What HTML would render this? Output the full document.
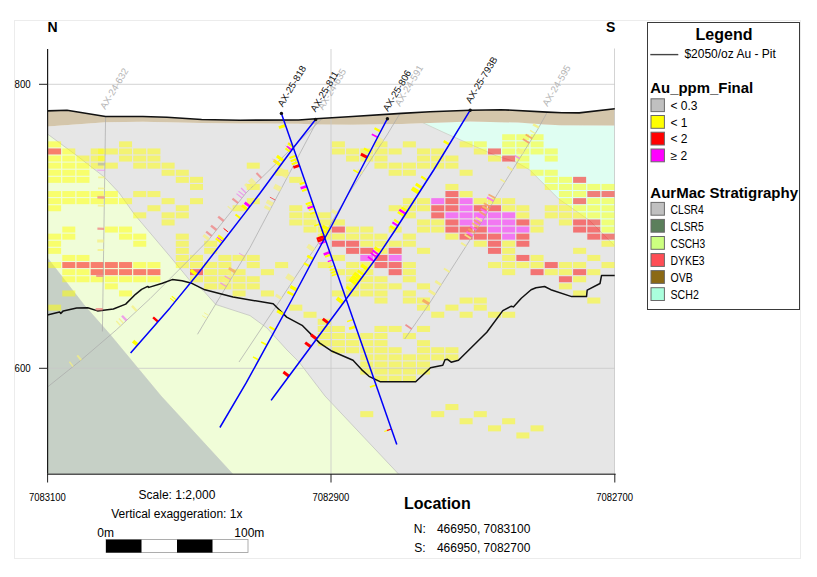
<!DOCTYPE html>
<html><head><meta charset="utf-8"><title>Section</title>
<style>html,body{margin:0;padding:0;background:#fff;}body{width:817px;height:577px;position:relative;overflow:hidden;font-family:"Liberation Sans",sans-serif;}</style></head>
<body>
<svg width="817" height="577" viewBox="0 0 817 577" font-family="Liberation Sans, sans-serif" style="position:absolute;left:0;top:0">
<rect x="14.5" y="20.5" width="786" height="538" fill="#fff" stroke="#ececec" stroke-width="1"/>
<g>
<polygon points="47.5,126.4 105.6,122.3 142.8,121.8 201.6,123.0 240.0,123.4 298.5,123.8 315.7,124.6 352.4,124.8 401.4,124.0 430.0,123.0 470.2,121.4 518.0,122.6 545.0,124.4 560.0,125.3 614.8,125.5 614.8,474.0 47.5,474.0" fill="#e6e6e6"/>
<polygon points="422.5,122.9 430.0,123.0 470.2,121.4 518.0,122.6 545.0,124.4 560.0,125.3 614.8,125.5 614.8,246.0 589.6,220.5 558.4,198.7 544.4,184.6 529.6,169.8 516.3,162.0 496.0,155.7 445.0,133.0" fill="#dffef2"/>
<polygon points="47.5,134.0 76.0,155.0 104.0,176.8 118.8,192.4 134.4,214.3 170.0,256.4 190.8,281.6 203.3,290.6 215.8,304.5 250.0,315.6 267.0,328.0 287.0,350.0 299.0,362.0 325.0,396.0 398.5,474.0 47.5,474.0" fill="#f0fdd8"/>
<polygon points="47.5,258.0 83.7,304.5 110.0,334.5 161.0,396.0 232.7,474.0 47.5,474.0" fill="#c6d0c6"/>
<polyline points="47.5,134.0 76.0,155.0 104.0,176.8 118.8,192.4 134.4,214.3 170.0,256.4 190.8,281.6 203.3,290.6 215.8,304.5 250.0,315.6 267.0,328.0 287.0,350.0 299.0,362.0 325.0,396.0 398.5,474.0" fill="none" stroke="#bdbdbd" stroke-width="0.7"/>
<polyline points="47.5,258.0 83.7,304.5 110.0,334.5 161.0,396.0 232.7,474.0" fill="none" stroke="#c4c9c4" stroke-width="0.6"/>
<polyline points="422.5,122.6 445.0,133.0 496.0,155.7 516.3,162.0 529.6,169.8 544.4,184.6 558.4,198.7 589.6,220.5 614.8,246.0" fill="none" stroke="#c9c9c0" stroke-width="0.7"/>
<polygon points="47.5,110.9 67.0,110.2 105.6,116.5 142.8,116.5 167.0,117.3 201.6,119.5 240.0,120.2 298.5,120.0 315.7,118.7 352.4,116.5 401.4,113.4 430.0,111.8 470.2,110.2 500.8,109.7 547.3,112.1 562.0,112.8 579.2,112.9 614.8,108.7 614.8,125.5 560.0,125.3 545.0,124.4 518.0,122.6 470.2,121.4 430.0,123.0 401.4,124.0 352.4,124.8 315.7,124.6 298.5,123.8 240.0,123.4 201.6,123.0 142.8,121.8 105.6,122.3 47.5,126.4" fill="#d4c6ab"/>
</g>
<g stroke="#c8c8c8" stroke-width="0.8">
<line x1="47.5" y1="84.3" x2="614.8" y2="84.3"/>
<line x1="47.5" y1="368.3" x2="614.8" y2="368.3"/>
<line x1="331" y1="49" x2="331" y2="474.0"/>
<line x1="614.5" y1="48.5" x2="614.5" y2="474.0"/>
</g>
<g shape-rendering="auto">
<rect x="502.18" y="134.25" width="12.99" height="6.00" fill="#ffff00" fill-opacity="0.50"/>
<rect x="516.37" y="134.25" width="12.99" height="6.00" fill="#ffff00" fill-opacity="0.50"/>
<rect x="530.56" y="134.25" width="12.99" height="6.00" fill="#ffff00" fill-opacity="0.50"/>
<rect x="48.10" y="141.35" width="12.99" height="6.00" fill="#ffff00" fill-opacity="0.50"/>
<rect x="119.05" y="141.35" width="12.99" height="6.00" fill="#ffff00" fill-opacity="0.50"/>
<rect x="331.90" y="141.35" width="12.99" height="6.00" fill="#ffff00" fill-opacity="0.50"/>
<rect x="374.47" y="141.35" width="12.99" height="6.00" fill="#ffff00" fill-opacity="0.50"/>
<rect x="402.85" y="141.35" width="12.99" height="6.00" fill="#ffff00" fill-opacity="0.50"/>
<rect x="459.61" y="141.35" width="12.99" height="6.00" fill="#ffff00" fill-opacity="0.50"/>
<rect x="473.80" y="141.35" width="12.99" height="6.00" fill="#ffff00" fill-opacity="0.50"/>
<rect x="502.18" y="141.35" width="12.99" height="6.00" fill="#ffff00" fill-opacity="0.50"/>
<rect x="516.37" y="141.35" width="12.99" height="6.00" fill="#ffff00" fill-opacity="0.50"/>
<rect x="530.56" y="141.35" width="12.99" height="6.00" fill="#ffff00" fill-opacity="0.50"/>
<rect x="48.10" y="148.45" width="12.99" height="6.00" fill="#ff0000" fill-opacity="0.50"/>
<rect x="62.29" y="148.45" width="12.99" height="6.00" fill="#ffff00" fill-opacity="0.50"/>
<rect x="90.67" y="148.45" width="12.99" height="6.00" fill="#ffff00" fill-opacity="0.50"/>
<rect x="104.86" y="148.45" width="12.99" height="6.00" fill="#ffff00" fill-opacity="0.50"/>
<rect x="119.05" y="148.45" width="12.99" height="6.00" fill="#ffff00" fill-opacity="0.50"/>
<rect x="133.24" y="148.45" width="12.99" height="6.00" fill="#ffff00" fill-opacity="0.50"/>
<rect x="147.43" y="148.45" width="12.99" height="6.00" fill="#ffff00" fill-opacity="0.50"/>
<rect x="331.90" y="148.45" width="12.99" height="6.00" fill="#ffff00" fill-opacity="0.50"/>
<rect x="346.09" y="148.45" width="12.99" height="6.00" fill="#ffff00" fill-opacity="0.50"/>
<rect x="360.28" y="148.45" width="12.99" height="6.00" fill="#ffff00" fill-opacity="0.50"/>
<rect x="374.47" y="148.45" width="12.99" height="6.00" fill="#ffff00" fill-opacity="0.50"/>
<rect x="388.66" y="148.45" width="12.99" height="6.00" fill="#ffff00" fill-opacity="0.50"/>
<rect x="417.04" y="148.45" width="12.99" height="6.00" fill="#ffff00" fill-opacity="0.50"/>
<rect x="431.23" y="148.45" width="12.99" height="6.00" fill="#ffff00" fill-opacity="0.50"/>
<rect x="473.80" y="148.45" width="12.99" height="6.00" fill="#ffff00" fill-opacity="0.50"/>
<rect x="487.99" y="148.45" width="12.99" height="6.00" fill="#ff0000" fill-opacity="0.50"/>
<rect x="502.18" y="148.45" width="12.99" height="6.00" fill="#ffff00" fill-opacity="0.50"/>
<rect x="516.37" y="148.45" width="12.99" height="6.00" fill="#ffff00" fill-opacity="0.50"/>
<rect x="530.56" y="148.45" width="12.99" height="6.00" fill="#ffff00" fill-opacity="0.50"/>
<rect x="544.75" y="148.45" width="12.99" height="6.00" fill="#ffff00" fill-opacity="0.50"/>
<rect x="48.10" y="155.55" width="12.99" height="6.00" fill="#ffff00" fill-opacity="0.50"/>
<rect x="62.29" y="155.55" width="12.99" height="6.00" fill="#ffff00" fill-opacity="0.50"/>
<rect x="76.48" y="155.55" width="12.99" height="6.00" fill="#ffff00" fill-opacity="0.50"/>
<rect x="90.67" y="155.55" width="12.99" height="6.00" fill="#ffff00" fill-opacity="0.50"/>
<rect x="119.05" y="155.55" width="12.99" height="6.00" fill="#ffff00" fill-opacity="0.50"/>
<rect x="133.24" y="155.55" width="12.99" height="6.00" fill="#ffff00" fill-opacity="0.50"/>
<rect x="147.43" y="155.55" width="12.99" height="6.00" fill="#ffff00" fill-opacity="0.50"/>
<rect x="346.09" y="155.55" width="12.99" height="6.00" fill="#ffff00" fill-opacity="0.50"/>
<rect x="360.28" y="155.55" width="12.99" height="6.00" fill="#ffff00" fill-opacity="0.50"/>
<rect x="374.47" y="155.55" width="12.99" height="6.00" fill="#ffff00" fill-opacity="0.50"/>
<rect x="417.04" y="155.55" width="12.99" height="6.00" fill="#ffff00" fill-opacity="0.50"/>
<rect x="431.23" y="155.55" width="12.99" height="6.00" fill="#ffff00" fill-opacity="0.50"/>
<rect x="445.42" y="155.55" width="12.99" height="6.00" fill="#ffff00" fill-opacity="0.50"/>
<rect x="487.99" y="155.55" width="12.99" height="6.00" fill="#ffff00" fill-opacity="0.50"/>
<rect x="502.18" y="155.55" width="12.99" height="6.00" fill="#ff0000" fill-opacity="0.50"/>
<rect x="516.37" y="155.55" width="12.99" height="6.00" fill="#ffff00" fill-opacity="0.50"/>
<rect x="544.75" y="155.55" width="12.99" height="6.00" fill="#ffff00" fill-opacity="0.50"/>
<rect x="48.10" y="162.65" width="12.99" height="6.00" fill="#ffff00" fill-opacity="0.50"/>
<rect x="62.29" y="162.65" width="12.99" height="6.00" fill="#ffff00" fill-opacity="0.50"/>
<rect x="76.48" y="162.65" width="12.99" height="6.00" fill="#ffff00" fill-opacity="0.50"/>
<rect x="90.67" y="162.65" width="12.99" height="6.00" fill="#ffff00" fill-opacity="0.50"/>
<rect x="104.86" y="162.65" width="12.99" height="6.00" fill="#ffff00" fill-opacity="0.50"/>
<rect x="133.24" y="162.65" width="12.99" height="6.00" fill="#ffff00" fill-opacity="0.50"/>
<rect x="147.43" y="162.65" width="12.99" height="6.00" fill="#ffff00" fill-opacity="0.50"/>
<rect x="161.62" y="162.65" width="12.99" height="6.00" fill="#ffff00" fill-opacity="0.50"/>
<rect x="246.76" y="162.65" width="12.99" height="6.00" fill="#ffff00" fill-opacity="0.50"/>
<rect x="374.47" y="162.65" width="12.99" height="6.00" fill="#ffff00" fill-opacity="0.50"/>
<rect x="388.66" y="162.65" width="12.99" height="6.00" fill="#ffff00" fill-opacity="0.50"/>
<rect x="402.85" y="162.65" width="12.99" height="6.00" fill="#ffff00" fill-opacity="0.50"/>
<rect x="417.04" y="162.65" width="12.99" height="6.00" fill="#ffff00" fill-opacity="0.50"/>
<rect x="431.23" y="162.65" width="12.99" height="6.00" fill="#ffff00" fill-opacity="0.50"/>
<rect x="445.42" y="162.65" width="12.99" height="6.00" fill="#ffff00" fill-opacity="0.50"/>
<rect x="516.37" y="162.65" width="12.99" height="6.00" fill="#ffff00" fill-opacity="0.50"/>
<rect x="48.10" y="169.75" width="12.99" height="6.00" fill="#ffff00" fill-opacity="0.50"/>
<rect x="62.29" y="169.75" width="12.99" height="6.00" fill="#ffff00" fill-opacity="0.50"/>
<rect x="76.48" y="169.75" width="12.99" height="6.00" fill="#ffff00" fill-opacity="0.50"/>
<rect x="161.62" y="169.75" width="12.99" height="6.00" fill="#ffff00" fill-opacity="0.50"/>
<rect x="175.81" y="169.75" width="12.99" height="6.00" fill="#ffff00" fill-opacity="0.50"/>
<rect x="275.14" y="169.75" width="12.99" height="6.00" fill="#ffff00" fill-opacity="0.50"/>
<rect x="388.66" y="169.75" width="12.99" height="6.00" fill="#ffff00" fill-opacity="0.50"/>
<rect x="402.85" y="169.75" width="12.99" height="6.00" fill="#ffff00" fill-opacity="0.50"/>
<rect x="459.61" y="169.75" width="12.99" height="6.00" fill="#ffff00" fill-opacity="0.50"/>
<rect x="530.56" y="169.75" width="12.99" height="6.00" fill="#ffff00" fill-opacity="0.50"/>
<rect x="544.75" y="169.75" width="12.99" height="6.00" fill="#ffff00" fill-opacity="0.50"/>
<rect x="48.10" y="176.85" width="12.99" height="6.00" fill="#ffff00" fill-opacity="0.50"/>
<rect x="62.29" y="176.85" width="12.99" height="6.00" fill="#ffff00" fill-opacity="0.50"/>
<rect x="76.48" y="176.85" width="12.99" height="6.00" fill="#ffff00" fill-opacity="0.50"/>
<rect x="175.81" y="176.85" width="12.99" height="6.00" fill="#ffff00" fill-opacity="0.50"/>
<rect x="190.00" y="176.85" width="12.99" height="6.00" fill="#ffff00" fill-opacity="0.50"/>
<rect x="289.33" y="176.85" width="12.99" height="6.00" fill="#ffff00" fill-opacity="0.50"/>
<rect x="544.75" y="176.85" width="12.99" height="6.00" fill="#ffff00" fill-opacity="0.50"/>
<rect x="558.94" y="176.85" width="12.99" height="6.00" fill="#ffff00" fill-opacity="0.50"/>
<rect x="573.13" y="176.85" width="12.99" height="6.00" fill="#ff0000" fill-opacity="0.50"/>
<rect x="190.00" y="183.95" width="12.99" height="6.00" fill="#ffff00" fill-opacity="0.50"/>
<rect x="246.76" y="183.95" width="12.99" height="6.00" fill="#ffff00" fill-opacity="0.50"/>
<rect x="445.42" y="183.95" width="12.99" height="6.00" fill="#ffff00" fill-opacity="0.50"/>
<rect x="544.75" y="183.95" width="12.99" height="6.00" fill="#ffff00" fill-opacity="0.50"/>
<rect x="558.94" y="183.95" width="12.99" height="6.00" fill="#ffff00" fill-opacity="0.50"/>
<rect x="573.13" y="183.95" width="12.99" height="6.00" fill="#ffff00" fill-opacity="0.50"/>
<rect x="587.32" y="183.95" width="12.99" height="6.00" fill="#ffff00" fill-opacity="0.50"/>
<rect x="601.51" y="183.95" width="12.99" height="6.00" fill="#ffff00" fill-opacity="0.50"/>
<rect x="48.10" y="191.05" width="12.99" height="6.00" fill="#ffff00" fill-opacity="0.50"/>
<rect x="62.29" y="191.05" width="12.99" height="6.00" fill="#ffff00" fill-opacity="0.50"/>
<rect x="76.48" y="191.05" width="12.99" height="6.00" fill="#ffff00" fill-opacity="0.50"/>
<rect x="90.67" y="191.05" width="12.99" height="6.00" fill="#ffff00" fill-opacity="0.50"/>
<rect x="104.86" y="191.05" width="12.99" height="6.00" fill="#ffff00" fill-opacity="0.50"/>
<rect x="133.24" y="191.05" width="12.99" height="6.00" fill="#ffff00" fill-opacity="0.50"/>
<rect x="147.43" y="191.05" width="12.99" height="6.00" fill="#ffff00" fill-opacity="0.50"/>
<rect x="445.42" y="191.05" width="12.99" height="6.00" fill="#ff0000" fill-opacity="0.50"/>
<rect x="459.61" y="191.05" width="12.99" height="6.00" fill="#ffff00" fill-opacity="0.50"/>
<rect x="558.94" y="191.05" width="12.99" height="6.00" fill="#ffff00" fill-opacity="0.50"/>
<rect x="573.13" y="191.05" width="12.99" height="6.00" fill="#ffff00" fill-opacity="0.50"/>
<rect x="587.32" y="191.05" width="12.99" height="6.00" fill="#ff0000" fill-opacity="0.50"/>
<rect x="601.51" y="191.05" width="12.99" height="6.00" fill="#ff0000" fill-opacity="0.50"/>
<rect x="48.10" y="198.15" width="12.99" height="6.00" fill="#ffff00" fill-opacity="0.50"/>
<rect x="62.29" y="198.15" width="12.99" height="6.00" fill="#ffff00" fill-opacity="0.50"/>
<rect x="76.48" y="198.15" width="12.99" height="6.00" fill="#ffff00" fill-opacity="0.50"/>
<rect x="90.67" y="198.15" width="12.99" height="6.00" fill="#ffff00" fill-opacity="0.50"/>
<rect x="104.86" y="198.15" width="12.99" height="6.00" fill="#ffff00" fill-opacity="0.50"/>
<rect x="119.05" y="198.15" width="12.99" height="6.00" fill="#ffff00" fill-opacity="0.50"/>
<rect x="161.62" y="198.15" width="12.99" height="6.00" fill="#ffff00" fill-opacity="0.50"/>
<rect x="190.00" y="198.15" width="12.99" height="6.00" fill="#ffff00" fill-opacity="0.50"/>
<rect x="246.76" y="198.15" width="12.99" height="6.00" fill="#ffff00" fill-opacity="0.50"/>
<rect x="402.85" y="198.15" width="12.99" height="6.00" fill="#ffff00" fill-opacity="0.50"/>
<rect x="417.04" y="198.15" width="12.99" height="6.00" fill="#ffff00" fill-opacity="0.50"/>
<rect x="431.23" y="198.15" width="12.99" height="6.00" fill="#ff00ff" fill-opacity="0.48"/>
<rect x="445.42" y="198.15" width="12.99" height="6.00" fill="#ff0000" fill-opacity="0.50"/>
<rect x="459.61" y="198.15" width="12.99" height="6.00" fill="#ff00ff" fill-opacity="0.48"/>
<rect x="473.80" y="198.15" width="12.99" height="6.00" fill="#ffff00" fill-opacity="0.50"/>
<rect x="487.99" y="198.15" width="12.99" height="6.00" fill="#ffff00" fill-opacity="0.50"/>
<rect x="502.18" y="198.15" width="12.99" height="6.00" fill="#ffff00" fill-opacity="0.50"/>
<rect x="558.94" y="198.15" width="12.99" height="6.00" fill="#ffff00" fill-opacity="0.50"/>
<rect x="573.13" y="198.15" width="12.99" height="6.00" fill="#ff0000" fill-opacity="0.50"/>
<rect x="587.32" y="198.15" width="12.99" height="6.00" fill="#ffff00" fill-opacity="0.50"/>
<rect x="601.51" y="198.15" width="12.99" height="6.00" fill="#ffff00" fill-opacity="0.50"/>
<rect x="48.10" y="205.25" width="12.99" height="6.00" fill="#ffff00" fill-opacity="0.50"/>
<rect x="147.43" y="205.25" width="12.99" height="6.00" fill="#ffff00" fill-opacity="0.50"/>
<rect x="175.81" y="205.25" width="12.99" height="6.00" fill="#ffff00" fill-opacity="0.50"/>
<rect x="232.57" y="205.25" width="12.99" height="6.00" fill="#ffff00" fill-opacity="0.50"/>
<rect x="289.33" y="205.25" width="12.99" height="6.00" fill="#ffff00" fill-opacity="0.50"/>
<rect x="388.66" y="205.25" width="12.99" height="6.00" fill="#ffff00" fill-opacity="0.50"/>
<rect x="402.85" y="205.25" width="12.99" height="6.00" fill="#ffff00" fill-opacity="0.50"/>
<rect x="417.04" y="205.25" width="12.99" height="6.00" fill="#ffff00" fill-opacity="0.50"/>
<rect x="431.23" y="205.25" width="12.99" height="6.00" fill="#ff0000" fill-opacity="0.50"/>
<rect x="445.42" y="205.25" width="12.99" height="6.00" fill="#ff0000" fill-opacity="0.50"/>
<rect x="459.61" y="205.25" width="12.99" height="6.00" fill="#ff00ff" fill-opacity="0.48"/>
<rect x="473.80" y="205.25" width="12.99" height="6.00" fill="#ff0000" fill-opacity="0.50"/>
<rect x="487.99" y="205.25" width="12.99" height="6.00" fill="#ff0000" fill-opacity="0.50"/>
<rect x="502.18" y="205.25" width="12.99" height="6.00" fill="#ffff00" fill-opacity="0.50"/>
<rect x="516.37" y="205.25" width="12.99" height="6.00" fill="#ffff00" fill-opacity="0.50"/>
<rect x="544.75" y="205.25" width="12.99" height="6.00" fill="#ffff00" fill-opacity="0.50"/>
<rect x="558.94" y="205.25" width="12.99" height="6.00" fill="#ffff00" fill-opacity="0.50"/>
<rect x="573.13" y="205.25" width="12.99" height="6.00" fill="#ffff00" fill-opacity="0.50"/>
<rect x="587.32" y="205.25" width="12.99" height="6.00" fill="#ffff00" fill-opacity="0.50"/>
<rect x="601.51" y="205.25" width="12.99" height="6.00" fill="#ffff00" fill-opacity="0.50"/>
<rect x="133.24" y="212.35" width="12.99" height="6.00" fill="#ffff00" fill-opacity="0.50"/>
<rect x="161.62" y="212.35" width="12.99" height="6.00" fill="#ffff00" fill-opacity="0.50"/>
<rect x="175.81" y="212.35" width="12.99" height="6.00" fill="#ffff00" fill-opacity="0.50"/>
<rect x="289.33" y="212.35" width="12.99" height="6.00" fill="#ffff00" fill-opacity="0.50"/>
<rect x="303.52" y="212.35" width="12.99" height="6.00" fill="#ffff00" fill-opacity="0.50"/>
<rect x="317.71" y="212.35" width="12.99" height="6.00" fill="#ffff00" fill-opacity="0.50"/>
<rect x="402.85" y="212.35" width="12.99" height="6.00" fill="#ffff00" fill-opacity="0.50"/>
<rect x="431.23" y="212.35" width="12.99" height="6.00" fill="#ff0000" fill-opacity="0.50"/>
<rect x="445.42" y="212.35" width="12.99" height="6.00" fill="#ff00ff" fill-opacity="0.48"/>
<rect x="459.61" y="212.35" width="12.99" height="6.00" fill="#ff00ff" fill-opacity="0.48"/>
<rect x="473.80" y="212.35" width="12.99" height="6.00" fill="#ff00ff" fill-opacity="0.48"/>
<rect x="487.99" y="212.35" width="12.99" height="6.00" fill="#ff00ff" fill-opacity="0.48"/>
<rect x="502.18" y="212.35" width="12.99" height="6.00" fill="#ff00ff" fill-opacity="0.48"/>
<rect x="516.37" y="212.35" width="12.99" height="6.00" fill="#ffff00" fill-opacity="0.50"/>
<rect x="544.75" y="212.35" width="12.99" height="6.00" fill="#ffff00" fill-opacity="0.50"/>
<rect x="558.94" y="212.35" width="12.99" height="6.00" fill="#ffff00" fill-opacity="0.50"/>
<rect x="573.13" y="212.35" width="12.99" height="6.00" fill="#ffff00" fill-opacity="0.50"/>
<rect x="587.32" y="212.35" width="12.99" height="6.00" fill="#ffff00" fill-opacity="0.50"/>
<rect x="601.51" y="212.35" width="12.99" height="6.00" fill="#ffff00" fill-opacity="0.50"/>
<rect x="161.62" y="219.45" width="12.99" height="6.00" fill="#ffff00" fill-opacity="0.50"/>
<rect x="289.33" y="219.45" width="12.99" height="6.00" fill="#ffff00" fill-opacity="0.50"/>
<rect x="303.52" y="219.45" width="12.99" height="6.00" fill="#ffff00" fill-opacity="0.50"/>
<rect x="317.71" y="219.45" width="12.99" height="6.00" fill="#ffff00" fill-opacity="0.50"/>
<rect x="331.90" y="219.45" width="12.99" height="6.00" fill="#ffff00" fill-opacity="0.50"/>
<rect x="417.04" y="219.45" width="12.99" height="6.00" fill="#ffff00" fill-opacity="0.50"/>
<rect x="431.23" y="219.45" width="12.99" height="6.00" fill="#ffff00" fill-opacity="0.50"/>
<rect x="445.42" y="219.45" width="12.99" height="6.00" fill="#ff0000" fill-opacity="0.50"/>
<rect x="459.61" y="219.45" width="12.99" height="6.00" fill="#ff00ff" fill-opacity="0.48"/>
<rect x="473.80" y="219.45" width="12.99" height="6.00" fill="#ff00ff" fill-opacity="0.48"/>
<rect x="487.99" y="219.45" width="12.99" height="6.00" fill="#ff00ff" fill-opacity="0.48"/>
<rect x="502.18" y="219.45" width="12.99" height="6.00" fill="#ff00ff" fill-opacity="0.48"/>
<rect x="516.37" y="219.45" width="12.99" height="6.00" fill="#ff0000" fill-opacity="0.50"/>
<rect x="530.56" y="219.45" width="12.99" height="6.00" fill="#ffff00" fill-opacity="0.50"/>
<rect x="558.94" y="219.45" width="12.99" height="6.00" fill="#ffff00" fill-opacity="0.50"/>
<rect x="573.13" y="219.45" width="12.99" height="6.00" fill="#ff0000" fill-opacity="0.50"/>
<rect x="587.32" y="219.45" width="12.99" height="6.00" fill="#ff0000" fill-opacity="0.50"/>
<rect x="601.51" y="219.45" width="12.99" height="6.00" fill="#ffff00" fill-opacity="0.50"/>
<rect x="62.29" y="226.55" width="12.99" height="6.00" fill="#ffff00" fill-opacity="0.50"/>
<rect x="104.86" y="226.55" width="12.99" height="6.00" fill="#ffff00" fill-opacity="0.50"/>
<rect x="119.05" y="226.55" width="12.99" height="6.00" fill="#ffff00" fill-opacity="0.50"/>
<rect x="303.52" y="226.55" width="12.99" height="6.00" fill="#ffff00" fill-opacity="0.50"/>
<rect x="317.71" y="226.55" width="12.99" height="6.00" fill="#ffff00" fill-opacity="0.50"/>
<rect x="331.90" y="226.55" width="12.99" height="6.00" fill="#ff0000" fill-opacity="0.50"/>
<rect x="346.09" y="226.55" width="12.99" height="6.00" fill="#ffff00" fill-opacity="0.50"/>
<rect x="360.28" y="226.55" width="12.99" height="6.00" fill="#ffff00" fill-opacity="0.50"/>
<rect x="388.66" y="226.55" width="12.99" height="6.00" fill="#ffff00" fill-opacity="0.50"/>
<rect x="417.04" y="226.55" width="12.99" height="6.00" fill="#ffff00" fill-opacity="0.50"/>
<rect x="431.23" y="226.55" width="12.99" height="6.00" fill="#ffff00" fill-opacity="0.50"/>
<rect x="445.42" y="226.55" width="12.99" height="6.00" fill="#ff0000" fill-opacity="0.50"/>
<rect x="459.61" y="226.55" width="12.99" height="6.00" fill="#ff0000" fill-opacity="0.50"/>
<rect x="473.80" y="226.55" width="12.99" height="6.00" fill="#ff0000" fill-opacity="0.50"/>
<rect x="487.99" y="226.55" width="12.99" height="6.00" fill="#ff00ff" fill-opacity="0.48"/>
<rect x="502.18" y="226.55" width="12.99" height="6.00" fill="#ff00ff" fill-opacity="0.48"/>
<rect x="516.37" y="226.55" width="12.99" height="6.00" fill="#ff00ff" fill-opacity="0.48"/>
<rect x="530.56" y="226.55" width="12.99" height="6.00" fill="#ffff00" fill-opacity="0.50"/>
<rect x="573.13" y="226.55" width="12.99" height="6.00" fill="#ff0000" fill-opacity="0.50"/>
<rect x="587.32" y="226.55" width="12.99" height="6.00" fill="#ff0000" fill-opacity="0.50"/>
<rect x="601.51" y="226.55" width="12.99" height="6.00" fill="#ffff00" fill-opacity="0.50"/>
<rect x="48.10" y="233.65" width="12.99" height="6.00" fill="#ffff00" fill-opacity="0.50"/>
<rect x="62.29" y="233.65" width="12.99" height="6.00" fill="#ffff00" fill-opacity="0.50"/>
<rect x="119.05" y="233.65" width="12.99" height="6.00" fill="#ffff00" fill-opacity="0.50"/>
<rect x="133.24" y="233.65" width="12.99" height="6.00" fill="#ffff00" fill-opacity="0.50"/>
<rect x="175.81" y="233.65" width="12.99" height="6.00" fill="#ffff00" fill-opacity="0.50"/>
<rect x="317.71" y="233.65" width="12.99" height="6.00" fill="#ffff00" fill-opacity="0.50"/>
<rect x="331.90" y="233.65" width="12.99" height="6.00" fill="#ffff00" fill-opacity="0.50"/>
<rect x="346.09" y="233.65" width="12.99" height="6.00" fill="#ffff00" fill-opacity="0.50"/>
<rect x="360.28" y="233.65" width="12.99" height="6.00" fill="#ffff00" fill-opacity="0.50"/>
<rect x="374.47" y="233.65" width="12.99" height="6.00" fill="#ffff00" fill-opacity="0.50"/>
<rect x="402.85" y="233.65" width="12.99" height="6.00" fill="#ffff00" fill-opacity="0.50"/>
<rect x="445.42" y="233.65" width="12.99" height="6.00" fill="#ffff00" fill-opacity="0.50"/>
<rect x="459.61" y="233.65" width="12.99" height="6.00" fill="#ff0000" fill-opacity="0.50"/>
<rect x="473.80" y="233.65" width="12.99" height="6.00" fill="#ff0000" fill-opacity="0.50"/>
<rect x="487.99" y="233.65" width="12.99" height="6.00" fill="#ff0000" fill-opacity="0.50"/>
<rect x="502.18" y="233.65" width="12.99" height="6.00" fill="#ff00ff" fill-opacity="0.48"/>
<rect x="516.37" y="233.65" width="12.99" height="6.00" fill="#ff0000" fill-opacity="0.50"/>
<rect x="587.32" y="233.65" width="12.99" height="6.00" fill="#ff0000" fill-opacity="0.50"/>
<rect x="601.51" y="233.65" width="12.99" height="6.00" fill="#ff0000" fill-opacity="0.50"/>
<rect x="48.10" y="240.75" width="12.99" height="6.00" fill="#ffff00" fill-opacity="0.50"/>
<rect x="133.24" y="240.75" width="12.99" height="6.00" fill="#ffff00" fill-opacity="0.50"/>
<rect x="175.81" y="240.75" width="12.99" height="6.00" fill="#ffff00" fill-opacity="0.50"/>
<rect x="204.19" y="240.75" width="12.99" height="6.00" fill="#ffff00" fill-opacity="0.50"/>
<rect x="331.90" y="240.75" width="12.99" height="6.00" fill="#ff0000" fill-opacity="0.50"/>
<rect x="346.09" y="240.75" width="12.99" height="6.00" fill="#ff0000" fill-opacity="0.50"/>
<rect x="360.28" y="240.75" width="12.99" height="6.00" fill="#ffff00" fill-opacity="0.50"/>
<rect x="374.47" y="240.75" width="12.99" height="6.00" fill="#ffff00" fill-opacity="0.50"/>
<rect x="388.66" y="240.75" width="12.99" height="6.00" fill="#ffff00" fill-opacity="0.50"/>
<rect x="402.85" y="240.75" width="12.99" height="6.00" fill="#ffff00" fill-opacity="0.50"/>
<rect x="473.80" y="240.75" width="12.99" height="6.00" fill="#ffff00" fill-opacity="0.50"/>
<rect x="487.99" y="240.75" width="12.99" height="6.00" fill="#ff0000" fill-opacity="0.50"/>
<rect x="502.18" y="240.75" width="12.99" height="6.00" fill="#ffff00" fill-opacity="0.50"/>
<rect x="516.37" y="240.75" width="12.99" height="6.00" fill="#ff0000" fill-opacity="0.50"/>
<rect x="601.51" y="240.75" width="12.99" height="6.00" fill="#ffff00" fill-opacity="0.50"/>
<rect x="48.10" y="247.85" width="12.99" height="6.00" fill="#ffff00" fill-opacity="0.50"/>
<rect x="175.81" y="247.85" width="12.99" height="6.00" fill="#ffff00" fill-opacity="0.50"/>
<rect x="204.19" y="247.85" width="12.99" height="6.00" fill="#ffff00" fill-opacity="0.50"/>
<rect x="346.09" y="247.85" width="12.99" height="6.00" fill="#ff0000" fill-opacity="0.50"/>
<rect x="360.28" y="247.85" width="12.99" height="6.00" fill="#ff0000" fill-opacity="0.50"/>
<rect x="374.47" y="247.85" width="12.99" height="6.00" fill="#ffff00" fill-opacity="0.50"/>
<rect x="388.66" y="247.85" width="12.99" height="6.00" fill="#ff0000" fill-opacity="0.50"/>
<rect x="417.04" y="247.85" width="12.99" height="6.00" fill="#ffff00" fill-opacity="0.50"/>
<rect x="487.99" y="247.85" width="12.99" height="6.00" fill="#ff0000" fill-opacity="0.50"/>
<rect x="502.18" y="247.85" width="12.99" height="6.00" fill="#ffff00" fill-opacity="0.50"/>
<rect x="573.13" y="247.85" width="12.99" height="6.00" fill="#ffff00" fill-opacity="0.50"/>
<rect x="62.29" y="254.95" width="12.99" height="6.00" fill="#ffff00" fill-opacity="0.50"/>
<rect x="76.48" y="254.95" width="12.99" height="6.00" fill="#ffff00" fill-opacity="0.50"/>
<rect x="175.81" y="254.95" width="12.99" height="6.00" fill="#ffff00" fill-opacity="0.50"/>
<rect x="190.00" y="254.95" width="12.99" height="6.00" fill="#ffff00" fill-opacity="0.50"/>
<rect x="218.38" y="254.95" width="12.99" height="6.00" fill="#ffff00" fill-opacity="0.50"/>
<rect x="232.57" y="254.95" width="12.99" height="6.00" fill="#ffff00" fill-opacity="0.50"/>
<rect x="246.76" y="254.95" width="12.99" height="6.00" fill="#ffff00" fill-opacity="0.50"/>
<rect x="331.90" y="254.95" width="12.99" height="6.00" fill="#ffff00" fill-opacity="0.50"/>
<rect x="360.28" y="254.95" width="12.99" height="6.00" fill="#ff00ff" fill-opacity="0.48"/>
<rect x="374.47" y="254.95" width="12.99" height="6.00" fill="#ff0000" fill-opacity="0.50"/>
<rect x="388.66" y="254.95" width="12.99" height="6.00" fill="#ff00ff" fill-opacity="0.48"/>
<rect x="502.18" y="254.95" width="12.99" height="6.00" fill="#ffff00" fill-opacity="0.50"/>
<rect x="516.37" y="254.95" width="12.99" height="6.00" fill="#ff0000" fill-opacity="0.50"/>
<rect x="530.56" y="254.95" width="12.99" height="6.00" fill="#ffff00" fill-opacity="0.50"/>
<rect x="587.32" y="254.95" width="12.99" height="6.00" fill="#ffff00" fill-opacity="0.50"/>
<rect x="48.10" y="262.05" width="12.99" height="6.00" fill="#ffff00" fill-opacity="0.50"/>
<rect x="62.29" y="262.05" width="12.99" height="6.00" fill="#ff0000" fill-opacity="0.50"/>
<rect x="76.48" y="262.05" width="12.99" height="6.00" fill="#ff0000" fill-opacity="0.50"/>
<rect x="90.67" y="262.05" width="12.99" height="6.00" fill="#ff0000" fill-opacity="0.50"/>
<rect x="104.86" y="262.05" width="12.99" height="6.00" fill="#ff0000" fill-opacity="0.50"/>
<rect x="119.05" y="262.05" width="12.99" height="6.00" fill="#ff0000" fill-opacity="0.50"/>
<rect x="133.24" y="262.05" width="12.99" height="6.00" fill="#ffff00" fill-opacity="0.50"/>
<rect x="147.43" y="262.05" width="12.99" height="6.00" fill="#ffff00" fill-opacity="0.50"/>
<rect x="175.81" y="262.05" width="12.99" height="6.00" fill="#ffff00" fill-opacity="0.50"/>
<rect x="190.00" y="262.05" width="12.99" height="6.00" fill="#ffff00" fill-opacity="0.50"/>
<rect x="204.19" y="262.05" width="12.99" height="6.00" fill="#ffff00" fill-opacity="0.50"/>
<rect x="218.38" y="262.05" width="12.99" height="6.00" fill="#ffff00" fill-opacity="0.50"/>
<rect x="246.76" y="262.05" width="12.99" height="6.00" fill="#ffff00" fill-opacity="0.50"/>
<rect x="275.14" y="262.05" width="12.99" height="6.00" fill="#ffff00" fill-opacity="0.50"/>
<rect x="317.71" y="262.05" width="12.99" height="6.00" fill="#ffff00" fill-opacity="0.50"/>
<rect x="346.09" y="262.05" width="12.99" height="6.00" fill="#ffff00" fill-opacity="0.50"/>
<rect x="360.28" y="262.05" width="12.99" height="6.00" fill="#ffff00" fill-opacity="0.50"/>
<rect x="374.47" y="262.05" width="12.99" height="6.00" fill="#ff0000" fill-opacity="0.50"/>
<rect x="388.66" y="262.05" width="12.99" height="6.00" fill="#ff0000" fill-opacity="0.50"/>
<rect x="402.85" y="262.05" width="12.99" height="6.00" fill="#ffff00" fill-opacity="0.50"/>
<rect x="487.99" y="262.05" width="12.99" height="6.00" fill="#ffff00" fill-opacity="0.50"/>
<rect x="502.18" y="262.05" width="12.99" height="6.00" fill="#ffff00" fill-opacity="0.50"/>
<rect x="516.37" y="262.05" width="12.99" height="6.00" fill="#ffff00" fill-opacity="0.50"/>
<rect x="530.56" y="262.05" width="12.99" height="6.00" fill="#ffff00" fill-opacity="0.50"/>
<rect x="544.75" y="262.05" width="12.99" height="6.00" fill="#ff0000" fill-opacity="0.50"/>
<rect x="558.94" y="262.05" width="12.99" height="6.00" fill="#ffff00" fill-opacity="0.50"/>
<rect x="573.13" y="262.05" width="12.99" height="6.00" fill="#ffff00" fill-opacity="0.50"/>
<rect x="601.51" y="262.05" width="12.99" height="6.00" fill="#ffff00" fill-opacity="0.50"/>
<rect x="62.29" y="269.15" width="12.99" height="6.00" fill="#ffff00" fill-opacity="0.50"/>
<rect x="76.48" y="269.15" width="12.99" height="6.00" fill="#ffff00" fill-opacity="0.50"/>
<rect x="90.67" y="269.15" width="12.99" height="6.00" fill="#ff0000" fill-opacity="0.50"/>
<rect x="104.86" y="269.15" width="12.99" height="6.00" fill="#ff0000" fill-opacity="0.50"/>
<rect x="119.05" y="269.15" width="12.99" height="6.00" fill="#ff0000" fill-opacity="0.50"/>
<rect x="133.24" y="269.15" width="12.99" height="6.00" fill="#ff0000" fill-opacity="0.50"/>
<rect x="147.43" y="269.15" width="12.99" height="6.00" fill="#ff0000" fill-opacity="0.50"/>
<rect x="190.00" y="269.15" width="12.99" height="6.00" fill="#ff0000" fill-opacity="0.50"/>
<rect x="204.19" y="269.15" width="12.99" height="6.00" fill="#ffff00" fill-opacity="0.50"/>
<rect x="218.38" y="269.15" width="12.99" height="6.00" fill="#ffff00" fill-opacity="0.50"/>
<rect x="232.57" y="269.15" width="12.99" height="6.00" fill="#ffff00" fill-opacity="0.50"/>
<rect x="260.95" y="269.15" width="12.99" height="6.00" fill="#ffff00" fill-opacity="0.50"/>
<rect x="331.90" y="269.15" width="12.99" height="6.00" fill="#ffff00" fill-opacity="0.50"/>
<rect x="346.09" y="269.15" width="12.99" height="6.00" fill="#ffff00" fill-opacity="0.50"/>
<rect x="360.28" y="269.15" width="12.99" height="6.00" fill="#ffff00" fill-opacity="0.50"/>
<rect x="388.66" y="269.15" width="12.99" height="6.00" fill="#ff0000" fill-opacity="0.50"/>
<rect x="402.85" y="269.15" width="12.99" height="6.00" fill="#ffff00" fill-opacity="0.50"/>
<rect x="502.18" y="269.15" width="12.99" height="6.00" fill="#ffff00" fill-opacity="0.50"/>
<rect x="530.56" y="269.15" width="12.99" height="6.00" fill="#ff0000" fill-opacity="0.50"/>
<rect x="544.75" y="269.15" width="12.99" height="6.00" fill="#ffff00" fill-opacity="0.50"/>
<rect x="558.94" y="269.15" width="12.99" height="6.00" fill="#ffff00" fill-opacity="0.50"/>
<rect x="573.13" y="269.15" width="12.99" height="6.00" fill="#ff0000" fill-opacity="0.50"/>
<rect x="587.32" y="269.15" width="12.99" height="6.00" fill="#ffff00" fill-opacity="0.50"/>
<rect x="62.29" y="276.25" width="12.99" height="6.00" fill="#ffff00" fill-opacity="0.50"/>
<rect x="76.48" y="276.25" width="12.99" height="6.00" fill="#ffff00" fill-opacity="0.50"/>
<rect x="90.67" y="276.25" width="12.99" height="6.00" fill="#ffff00" fill-opacity="0.50"/>
<rect x="104.86" y="276.25" width="12.99" height="6.00" fill="#ffff00" fill-opacity="0.50"/>
<rect x="119.05" y="276.25" width="12.99" height="6.00" fill="#ffff00" fill-opacity="0.50"/>
<rect x="133.24" y="276.25" width="12.99" height="6.00" fill="#ffff00" fill-opacity="0.50"/>
<rect x="147.43" y="276.25" width="12.99" height="6.00" fill="#ffff00" fill-opacity="0.50"/>
<rect x="190.00" y="276.25" width="12.99" height="6.00" fill="#ffff00" fill-opacity="0.50"/>
<rect x="204.19" y="276.25" width="12.99" height="6.00" fill="#ffff00" fill-opacity="0.50"/>
<rect x="218.38" y="276.25" width="12.99" height="6.00" fill="#ffff00" fill-opacity="0.50"/>
<rect x="232.57" y="276.25" width="12.99" height="6.00" fill="#ffff00" fill-opacity="0.50"/>
<rect x="246.76" y="276.25" width="12.99" height="6.00" fill="#ffff00" fill-opacity="0.50"/>
<rect x="346.09" y="276.25" width="12.99" height="6.00" fill="#ffff00" fill-opacity="0.50"/>
<rect x="360.28" y="276.25" width="12.99" height="6.00" fill="#ffff00" fill-opacity="0.50"/>
<rect x="374.47" y="276.25" width="12.99" height="6.00" fill="#ffff00" fill-opacity="0.50"/>
<rect x="402.85" y="276.25" width="12.99" height="6.00" fill="#ffff00" fill-opacity="0.50"/>
<rect x="558.94" y="276.25" width="12.99" height="6.00" fill="#ff0000" fill-opacity="0.50"/>
<rect x="573.13" y="276.25" width="12.99" height="6.00" fill="#ffff00" fill-opacity="0.50"/>
<rect x="104.86" y="283.35" width="12.99" height="6.00" fill="#ffff00" fill-opacity="0.50"/>
<rect x="204.19" y="283.35" width="12.99" height="6.00" fill="#ffff00" fill-opacity="0.50"/>
<rect x="218.38" y="283.35" width="12.99" height="6.00" fill="#ffff00" fill-opacity="0.50"/>
<rect x="232.57" y="283.35" width="12.99" height="6.00" fill="#ffff00" fill-opacity="0.50"/>
<rect x="246.76" y="283.35" width="12.99" height="6.00" fill="#ffff00" fill-opacity="0.50"/>
<rect x="346.09" y="283.35" width="12.99" height="6.00" fill="#ffff00" fill-opacity="0.50"/>
<rect x="360.28" y="283.35" width="12.99" height="6.00" fill="#ffff00" fill-opacity="0.50"/>
<rect x="374.47" y="283.35" width="12.99" height="6.00" fill="#ffff00" fill-opacity="0.50"/>
<rect x="388.66" y="283.35" width="12.99" height="6.00" fill="#ffff00" fill-opacity="0.50"/>
<rect x="417.04" y="283.35" width="12.99" height="6.00" fill="#ffff00" fill-opacity="0.50"/>
<rect x="558.94" y="283.35" width="12.99" height="6.00" fill="#ffff00" fill-opacity="0.50"/>
<rect x="62.29" y="290.45" width="12.99" height="6.00" fill="#ffff00" fill-opacity="0.50"/>
<rect x="119.05" y="290.45" width="12.99" height="6.00" fill="#ffff00" fill-opacity="0.50"/>
<rect x="232.57" y="290.45" width="12.99" height="6.00" fill="#ffff00" fill-opacity="0.50"/>
<rect x="260.95" y="290.45" width="12.99" height="6.00" fill="#ffff00" fill-opacity="0.50"/>
<rect x="331.90" y="290.45" width="12.99" height="6.00" fill="#ffff00" fill-opacity="0.50"/>
<rect x="346.09" y="290.45" width="12.99" height="6.00" fill="#ffff00" fill-opacity="0.50"/>
<rect x="360.28" y="290.45" width="12.99" height="6.00" fill="#ffff00" fill-opacity="0.50"/>
<rect x="374.47" y="290.45" width="12.99" height="6.00" fill="#ffff00" fill-opacity="0.50"/>
<rect x="402.85" y="290.45" width="12.99" height="6.00" fill="#ffff00" fill-opacity="0.50"/>
<rect x="573.13" y="290.45" width="12.99" height="6.00" fill="#ffff00" fill-opacity="0.50"/>
<rect x="374.47" y="297.55" width="12.99" height="6.00" fill="#ffff00" fill-opacity="0.50"/>
<rect x="402.85" y="297.55" width="12.99" height="6.00" fill="#ffff00" fill-opacity="0.50"/>
<rect x="417.04" y="297.55" width="12.99" height="6.00" fill="#ffff00" fill-opacity="0.50"/>
<rect x="459.61" y="297.55" width="12.99" height="6.00" fill="#ffff00" fill-opacity="0.50"/>
<rect x="473.80" y="297.55" width="12.99" height="6.00" fill="#ffff00" fill-opacity="0.50"/>
<rect x="587.32" y="297.55" width="12.99" height="6.00" fill="#ffff00" fill-opacity="0.50"/>
<rect x="48.10" y="304.65" width="12.99" height="6.00" fill="#ffff00" fill-opacity="0.50"/>
<rect x="289.33" y="304.65" width="12.99" height="6.00" fill="#ffff00" fill-opacity="0.50"/>
<rect x="417.04" y="304.65" width="12.99" height="6.00" fill="#ffff00" fill-opacity="0.50"/>
<rect x="445.42" y="304.65" width="12.99" height="6.00" fill="#ffff00" fill-opacity="0.50"/>
<rect x="473.80" y="304.65" width="12.99" height="6.00" fill="#ffff00" fill-opacity="0.50"/>
<rect x="303.52" y="311.75" width="12.99" height="6.00" fill="#ffff00" fill-opacity="0.50"/>
<rect x="431.23" y="311.75" width="12.99" height="6.00" fill="#ffff00" fill-opacity="0.50"/>
<rect x="459.61" y="311.75" width="12.99" height="6.00" fill="#ffff00" fill-opacity="0.50"/>
<rect x="487.99" y="311.75" width="12.99" height="6.00" fill="#ffff00" fill-opacity="0.50"/>
<rect x="502.18" y="311.75" width="12.99" height="6.00" fill="#ffff00" fill-opacity="0.50"/>
<rect x="317.71" y="318.85" width="12.99" height="6.00" fill="#ffff00" fill-opacity="0.50"/>
<rect x="317.71" y="325.95" width="12.99" height="6.00" fill="#ffff00" fill-opacity="0.50"/>
<rect x="331.90" y="325.95" width="12.99" height="6.00" fill="#ffff00" fill-opacity="0.50"/>
<rect x="374.47" y="325.95" width="12.99" height="6.00" fill="#ffff00" fill-opacity="0.50"/>
<rect x="388.66" y="325.95" width="12.99" height="6.00" fill="#ffff00" fill-opacity="0.50"/>
<rect x="417.04" y="325.95" width="12.99" height="6.00" fill="#ffff00" fill-opacity="0.50"/>
<rect x="317.71" y="333.05" width="12.99" height="6.00" fill="#ffff00" fill-opacity="0.50"/>
<rect x="331.90" y="333.05" width="12.99" height="6.00" fill="#ffff00" fill-opacity="0.50"/>
<rect x="346.09" y="333.05" width="12.99" height="6.00" fill="#ffff00" fill-opacity="0.50"/>
<rect x="360.28" y="333.05" width="12.99" height="6.00" fill="#ffff00" fill-opacity="0.50"/>
<rect x="374.47" y="333.05" width="12.99" height="6.00" fill="#ffff00" fill-opacity="0.50"/>
<rect x="402.85" y="333.05" width="12.99" height="6.00" fill="#ffff00" fill-opacity="0.50"/>
<rect x="317.71" y="340.15" width="12.99" height="6.00" fill="#ffff00" fill-opacity="0.50"/>
<rect x="331.90" y="340.15" width="12.99" height="6.00" fill="#ffff00" fill-opacity="0.50"/>
<rect x="346.09" y="340.15" width="12.99" height="6.00" fill="#ffff00" fill-opacity="0.50"/>
<rect x="360.28" y="340.15" width="12.99" height="6.00" fill="#ffff00" fill-opacity="0.50"/>
<rect x="374.47" y="340.15" width="12.99" height="6.00" fill="#ffff00" fill-opacity="0.50"/>
<rect x="417.04" y="340.15" width="12.99" height="6.00" fill="#ffff00" fill-opacity="0.50"/>
<rect x="331.90" y="347.25" width="12.99" height="6.00" fill="#ffff00" fill-opacity="0.50"/>
<rect x="346.09" y="347.25" width="12.99" height="6.00" fill="#ffff00" fill-opacity="0.50"/>
<rect x="360.28" y="347.25" width="12.99" height="6.00" fill="#ffff00" fill-opacity="0.50"/>
<rect x="374.47" y="347.25" width="12.99" height="6.00" fill="#ffff00" fill-opacity="0.50"/>
<rect x="388.66" y="347.25" width="12.99" height="6.00" fill="#ffff00" fill-opacity="0.50"/>
<rect x="417.04" y="347.25" width="12.99" height="6.00" fill="#ffff00" fill-opacity="0.50"/>
<rect x="431.23" y="347.25" width="12.99" height="6.00" fill="#ffff00" fill-opacity="0.50"/>
<rect x="445.42" y="347.25" width="12.99" height="6.00" fill="#ffff00" fill-opacity="0.50"/>
<rect x="360.28" y="354.35" width="12.99" height="6.00" fill="#ffff00" fill-opacity="0.50"/>
<rect x="374.47" y="354.35" width="12.99" height="6.00" fill="#ffff00" fill-opacity="0.50"/>
<rect x="388.66" y="354.35" width="12.99" height="6.00" fill="#ffff00" fill-opacity="0.50"/>
<rect x="402.85" y="354.35" width="12.99" height="6.00" fill="#ffff00" fill-opacity="0.50"/>
<rect x="417.04" y="354.35" width="12.99" height="6.00" fill="#ffff00" fill-opacity="0.50"/>
<rect x="431.23" y="354.35" width="12.99" height="6.00" fill="#ffff00" fill-opacity="0.50"/>
<rect x="445.42" y="354.35" width="12.99" height="6.00" fill="#ffff00" fill-opacity="0.50"/>
<rect x="360.28" y="361.45" width="12.99" height="6.00" fill="#ffff00" fill-opacity="0.50"/>
<rect x="374.47" y="361.45" width="12.99" height="6.00" fill="#ffff00" fill-opacity="0.50"/>
<rect x="388.66" y="361.45" width="12.99" height="6.00" fill="#ffff00" fill-opacity="0.50"/>
<rect x="402.85" y="361.45" width="12.99" height="6.00" fill="#ffff00" fill-opacity="0.50"/>
<rect x="417.04" y="361.45" width="12.99" height="6.00" fill="#ffff00" fill-opacity="0.50"/>
<rect x="360.28" y="368.55" width="12.99" height="6.00" fill="#ffff00" fill-opacity="0.50"/>
<rect x="374.47" y="368.55" width="12.99" height="6.00" fill="#ffff00" fill-opacity="0.50"/>
<rect x="388.66" y="368.55" width="12.99" height="6.00" fill="#ffff00" fill-opacity="0.50"/>
<rect x="402.85" y="368.55" width="12.99" height="6.00" fill="#ffff00" fill-opacity="0.50"/>
<rect x="417.04" y="368.55" width="12.99" height="6.00" fill="#ffff00" fill-opacity="0.50"/>
<rect x="374.47" y="375.65" width="12.99" height="6.00" fill="#ffff00" fill-opacity="0.50"/>
<rect x="388.66" y="375.65" width="12.99" height="6.00" fill="#ffff00" fill-opacity="0.50"/>
<rect x="402.85" y="375.65" width="12.99" height="6.00" fill="#ffff00" fill-opacity="0.50"/>
<rect x="445.42" y="404.05" width="12.99" height="6.00" fill="#ffff00" fill-opacity="0.50"/>
<rect x="360.28" y="411.15" width="12.99" height="6.00" fill="#ffff00" fill-opacity="0.50"/>
<rect x="431.23" y="411.15" width="12.99" height="6.00" fill="#ffff00" fill-opacity="0.50"/>
<rect x="473.80" y="411.15" width="12.99" height="6.00" fill="#ffff00" fill-opacity="0.50"/>
<rect x="459.61" y="418.25" width="12.99" height="6.00" fill="#ffff00" fill-opacity="0.50"/>
<rect x="502.18" y="418.25" width="12.99" height="6.00" fill="#ffff00" fill-opacity="0.50"/>
<rect x="487.99" y="425.35" width="12.99" height="6.00" fill="#ffff00" fill-opacity="0.50"/>
<rect x="530.56" y="425.35" width="12.99" height="6.00" fill="#ffff00" fill-opacity="0.50"/>
<rect x="516.37" y="432.45" width="12.99" height="6.00" fill="#ffff00" fill-opacity="0.50"/>
</g>
<polyline points="105.6,116.5 102.4,331.5" fill="none" stroke="#a9a9a9" stroke-width="0.7"/>
<polyline points="318.0,119.3 250.0,247.6 206.0,320.0 197.5,334.3" fill="none" stroke="#a9a9a9" stroke-width="0.7"/>
<polyline points="321.7,119.0 289.0,151.0 246.0,193.0 208.5,240.0 193.7,255.0 178.7,270.0 150.0,298.7 116.2,330.0 80.0,361.0 47.5,387.0" fill="none" stroke="#a9a9a9" stroke-width="0.7"/>
<polyline points="400.0,113.4 387.0,135.0 363.0,171.7 346.5,197.0 325.5,233.0 300.0,270.0 277.0,305.0 239.0,362.0" fill="none" stroke="#a9a9a9" stroke-width="0.7"/>
<polyline points="547.3,112.1 537.4,130.0 496.0,196.3 486.0,215.0 461.0,254.0 428.4,305.0 404.7,339.0" fill="none" stroke="#a9a9a9" stroke-width="0.7"/>
<polyline points="47.3,315.1 59.6,312.1 60.8,313.4 63.3,310.9 76.7,308.0 87.7,307.7 97.5,310.9 113.4,309.0 125.7,304.1 135.5,294.3 141.6,289.4 147.7,286.4 148.9,287.4 162.4,283.3 172.2,279.6 182.0,280.8 191.8,283.3 204.9,289.8 233.0,297.1 273.2,303.8 286.7,317.1 302.1,325.3 319.8,343.1 331.0,350.7 353.0,360.3 361.6,369.6 369.0,376.3 380.0,381.7 415.7,381.7 430.5,367.7 442.8,365.2 445.0,359.8 447.5,359.3 451.2,362.2 458.5,360.3 486.8,332.2 502.8,310.6 511.4,306.2 513.4,306.9 521.3,298.3 531.1,289.7 536.0,287.7 544.6,286.5 550.8,289.7 571.7,296.6 586.5,296.6 587.2,290.2 600.0,283.5 601.5,275.6 614.7,275.6" fill="none" stroke="#111" stroke-width="1.5" stroke-linejoin="round"/>
<polyline points="47.5,110.9 67.0,110.2 105.6,116.5 142.8,116.5 167.0,117.3 201.6,119.5 240.0,120.2 298.5,120.0 315.7,118.7 352.4,116.5 401.4,113.4 430.0,111.8 470.2,110.2 500.8,109.7 547.3,112.1 562.0,112.8 579.2,112.9 614.8,108.7" fill="none" stroke="#111" stroke-width="1.6" stroke-linejoin="round"/>
<line x1="285.5" y1="125.3" x2="278.9" y2="127.6" stroke="#ffff00" stroke-width="3.0" stroke-opacity="1.00"/>
<line x1="296.1" y1="155.7" x2="289.5" y2="158.0" stroke="#ffff00" stroke-width="2.2" stroke-opacity="1.00"/>
<line x1="297.3" y1="158.9" x2="290.6" y2="161.2" stroke="#ffff00" stroke-width="2.2" stroke-opacity="1.00"/>
<line x1="298.3" y1="162.0" x2="291.7" y2="164.3" stroke="#ffff00" stroke-width="2.2" stroke-opacity="1.00"/>
<line x1="299.5" y1="165.4" x2="293.4" y2="167.5" stroke="#ff0000" stroke-width="2.8" stroke-opacity="1.00"/>
<line x1="305.4" y1="182.3" x2="299.7" y2="184.3" stroke="#ffff00" stroke-width="2.0" stroke-opacity="1.00"/>
<line x1="306.8" y1="186.2" x2="300.6" y2="188.3" stroke="#ff00ff" stroke-width="2.6" stroke-opacity="1.00"/>
<line x1="307.7" y1="189.0" x2="302.1" y2="191.0" stroke="#ffff00" stroke-width="2.0" stroke-opacity="1.00"/>
<line x1="312.3" y1="202.0" x2="305.7" y2="204.3" stroke="#ffff00" stroke-width="2.0" stroke-opacity="1.00"/>
<line x1="313.0" y1="204.2" x2="306.9" y2="206.3" stroke="#ffff00" stroke-width="1.4" stroke-opacity="1.00"/>
<line x1="313.7" y1="206.2" x2="307.6" y2="208.3" stroke="#ff00ff" stroke-width="2.0" stroke-opacity="1.00"/>
<line x1="314.4" y1="208.2" x2="308.8" y2="210.2" stroke="#ffff00" stroke-width="1.6" stroke-opacity="1.00"/>
<line x1="315.8" y1="212.0" x2="310.1" y2="214.0" stroke="#ffff00" stroke-width="1.6" stroke-opacity="1.00"/>
<line x1="319.9" y1="224.0" x2="314.3" y2="226.0" stroke="#ffff00" stroke-width="1.8" stroke-opacity="1.00"/>
<line x1="324.2" y1="236.3" x2="316.7" y2="238.9" stroke="#ff0000" stroke-width="2.6" stroke-opacity="1.00"/>
<line x1="325.1" y1="238.7" x2="317.5" y2="241.3" stroke="#ff0000" stroke-width="2.6" stroke-opacity="1.00"/>
<line x1="326.0" y1="241.5" x2="319.4" y2="243.8" stroke="#ff00ff" stroke-width="1.8" stroke-opacity="1.00"/>
<line x1="329.8" y1="252.3" x2="323.7" y2="254.4" stroke="#ff00ff" stroke-width="2.6" stroke-opacity="1.00"/>
<line x1="330.7" y1="254.8" x2="325.0" y2="256.8" stroke="#ffff00" stroke-width="2.0" stroke-opacity="1.00"/>
<line x1="332.5" y1="260.0" x2="327.8" y2="261.6" stroke="#ff00ff" stroke-width="1.2" stroke-opacity="1.00"/>
<line x1="334.4" y1="265.5" x2="328.7" y2="267.5" stroke="#ffff00" stroke-width="1.3" stroke-opacity="1.00"/>
<line x1="335.4" y1="268.3" x2="329.7" y2="270.3" stroke="#ffff00" stroke-width="1.3" stroke-opacity="1.00"/>
<line x1="336.4" y1="271.1" x2="330.7" y2="273.1" stroke="#ffff00" stroke-width="1.3" stroke-opacity="1.00"/>
<line x1="337.3" y1="273.9" x2="331.7" y2="275.9" stroke="#ffff00" stroke-width="1.3" stroke-opacity="1.00"/>
<line x1="353.2" y1="319.5" x2="347.1" y2="321.6" stroke="#ffff00" stroke-width="1.4" stroke-opacity="1.00"/>
<line x1="355.7" y1="326.5" x2="349.1" y2="328.8" stroke="#ffff00" stroke-width="2.6" stroke-opacity="1.00"/>
<line x1="376.1" y1="385.0" x2="369.9" y2="387.1" stroke="#ffff00" stroke-width="1.8" stroke-opacity="1.00"/>
<line x1="391.4" y1="429.0" x2="386.7" y2="430.6" stroke="#ff0000" stroke-width="1.2" stroke-opacity="1.00"/>
<line x1="387.1" y1="430.5" x2="384.3" y2="431.5" stroke="#ffff00" stroke-width="1.2" stroke-opacity="1.00"/>
<line x1="293.7" y1="147.5" x2="288.0" y2="143.3" stroke="#ffff00" stroke-width="2.6" stroke-opacity="1.00"/>
<line x1="291.8" y1="150.0" x2="287.0" y2="146.4" stroke="#ff00ff" stroke-width="1.6" stroke-opacity="1.00"/>
<line x1="290.3" y1="152.0" x2="285.5" y2="148.4" stroke="#ffff00" stroke-width="2.0" stroke-opacity="1.00"/>
<line x1="283.7" y1="161.0" x2="276.9" y2="156.0" stroke="#ffff00" stroke-width="3.0" stroke-opacity="1.00"/>
<line x1="280.5" y1="165.3" x2="273.7" y2="160.3" stroke="#ffff00" stroke-width="3.0" stroke-opacity="1.00"/>
<line x1="249.9" y1="206.5" x2="244.7" y2="202.6" stroke="#ff00ff" stroke-width="2.8" stroke-opacity="1.00"/>
<line x1="247.5" y1="209.6" x2="242.0" y2="205.4" stroke="#ffff00" stroke-width="2.8" stroke-opacity="1.00"/>
<line x1="240.7" y1="218.5" x2="235.5" y2="214.5" stroke="#ffff00" stroke-width="2.2" stroke-opacity="1.00"/>
<line x1="224.1" y1="240.0" x2="218.2" y2="235.4" stroke="#ffff00" stroke-width="2.4" stroke-opacity="1.00"/>
<line x1="222.9" y1="241.6" x2="217.3" y2="237.3" stroke="#ff00ff" stroke-width="1.0" stroke-opacity="1.00"/>
<line x1="221.8" y1="243.0" x2="215.8" y2="238.4" stroke="#ffff00" stroke-width="2.2" stroke-opacity="1.00"/>
<line x1="196.9" y1="275.0" x2="190.7" y2="269.9" stroke="#ffff00" stroke-width="3.2" stroke-opacity="1.00"/>
<line x1="176.5" y1="300.0" x2="171.8" y2="296.2" stroke="#ffff00" stroke-width="1.1" stroke-opacity="1.00"/>
<line x1="174.8" y1="302.0" x2="170.2" y2="298.2" stroke="#ffff00" stroke-width="1.1" stroke-opacity="1.00"/>
<line x1="158.0" y1="321.7" x2="153.1" y2="317.4" stroke="#ff0000" stroke-width="2.4" stroke-opacity="1.00"/>
<line x1="137.7" y1="345.0" x2="133.1" y2="341.1" stroke="#ffff00" stroke-width="3.6" stroke-opacity="1.00"/>
<line x1="227.9" y1="231.8" x2="223.6" y2="228.4" stroke="#ff0000" stroke-width="1.0" stroke-opacity="1.00"/>
<line x1="380.6" y1="131.5" x2="374.5" y2="128.2" stroke="#ffff00" stroke-width="2.4" stroke-opacity="1.00"/>
<line x1="377.6" y1="137.3" x2="371.8" y2="134.3" stroke="#ff00ff" stroke-width="1.8" stroke-opacity="1.00"/>
<line x1="370.1" y1="151.8" x2="363.9" y2="148.6" stroke="#ffff00" stroke-width="2.2" stroke-opacity="1.00"/>
<line x1="367.2" y1="157.4" x2="360.9" y2="154.2" stroke="#ff0000" stroke-width="3.0" stroke-opacity="1.00"/>
<line x1="359.0" y1="173.0" x2="353.3" y2="170.0" stroke="#ffff00" stroke-width="1.8" stroke-opacity="1.00"/>
<line x1="329.4" y1="229.8" x2="322.4" y2="226.0" stroke="#ffff00" stroke-width="3.2" stroke-opacity="1.00"/>
<line x1="327.5" y1="233.2" x2="321.4" y2="229.8" stroke="#ffff00" stroke-width="2.6" stroke-opacity="1.00"/>
<line x1="325.9" y1="236.2" x2="320.6" y2="233.3" stroke="#ffff00" stroke-width="2.0" stroke-opacity="1.00"/>
<line x1="313.3" y1="259.2" x2="307.2" y2="255.9" stroke="#ffff00" stroke-width="2.6" stroke-opacity="1.00"/>
<line x1="309.6" y1="266.2" x2="303.9" y2="263.1" stroke="#ffff00" stroke-width="2.2" stroke-opacity="1.00"/>
<line x1="296.9" y1="290.0" x2="290.3" y2="286.5" stroke="#ffff00" stroke-width="3.2" stroke-opacity="1.00"/>
<line x1="294.1" y1="295.4" x2="287.4" y2="291.9" stroke="#ffff00" stroke-width="2.6" stroke-opacity="1.00"/>
<line x1="283.7" y1="314.5" x2="277.1" y2="310.9" stroke="#ffff00" stroke-width="3.0" stroke-opacity="1.00"/>
<line x1="275.2" y1="330.0" x2="269.5" y2="326.9" stroke="#ffff00" stroke-width="2.0" stroke-opacity="1.00"/>
<line x1="266.9" y1="345.0" x2="261.2" y2="341.9" stroke="#ffff00" stroke-width="1.7" stroke-opacity="1.00"/>
<line x1="258.7" y1="360.0" x2="253.0" y2="356.9" stroke="#ffff00" stroke-width="1.5" stroke-opacity="1.00"/>
<line x1="449.3" y1="144.5" x2="443.7" y2="141.1" stroke="#ffff00" stroke-width="2.4" stroke-opacity="1.00"/>
<line x1="427.1" y1="180.3" x2="421.2" y2="176.5" stroke="#ffff00" stroke-width="2.2" stroke-opacity="1.00"/>
<line x1="422.1" y1="188.0" x2="415.8" y2="183.9" stroke="#ffff00" stroke-width="3.0" stroke-opacity="1.00"/>
<line x1="419.1" y1="192.8" x2="411.9" y2="188.2" stroke="#ffff00" stroke-width="4.2" stroke-opacity="1.00"/>
<line x1="407.3" y1="211.2" x2="401.4" y2="207.4" stroke="#ffff00" stroke-width="2.4" stroke-opacity="1.00"/>
<line x1="405.6" y1="213.8" x2="399.3" y2="209.7" stroke="#ff00ff" stroke-width="2.4" stroke-opacity="1.00"/>
<line x1="404.1" y1="216.1" x2="397.8" y2="212.0" stroke="#ffff00" stroke-width="2.4" stroke-opacity="1.00"/>
<line x1="399.6" y1="223.2" x2="394.1" y2="219.7" stroke="#ffff00" stroke-width="2.2" stroke-opacity="1.00"/>
<line x1="397.9" y1="225.8" x2="392.4" y2="222.3" stroke="#ff00ff" stroke-width="2.0" stroke-opacity="1.00"/>
<line x1="395.5" y1="229.5" x2="390.1" y2="226.0" stroke="#ffff00" stroke-width="2.4" stroke-opacity="1.00"/>
<line x1="380.8" y1="251.7" x2="374.5" y2="247.6" stroke="#ffff00" stroke-width="3.0" stroke-opacity="1.00"/>
<line x1="378.6" y1="254.8" x2="372.6" y2="250.4" stroke="#ff00ff" stroke-width="2.0" stroke-opacity="1.00"/>
<line x1="376.8" y1="257.3" x2="370.7" y2="252.9" stroke="#ff00ff" stroke-width="1.8" stroke-opacity="1.00"/>
<line x1="373.9" y1="261.2" x2="367.9" y2="256.8" stroke="#ff00ff" stroke-width="1.8" stroke-opacity="1.00"/>
<line x1="367.8" y1="269.6" x2="361.3" y2="264.9" stroke="#ffff00" stroke-width="3.4" stroke-opacity="1.00"/>
<line x1="363.8" y1="275.0" x2="357.8" y2="270.6" stroke="#ffff00" stroke-width="2.6" stroke-opacity="1.00"/>
<line x1="361.3" y1="278.5" x2="354.0" y2="273.2" stroke="#ffff00" stroke-width="3.6" stroke-opacity="1.00"/>
<line x1="359.1" y1="281.5" x2="351.8" y2="276.2" stroke="#ffff00" stroke-width="3.6" stroke-opacity="1.00"/>
<line x1="356.9" y1="284.5" x2="349.6" y2="279.2" stroke="#ffff00" stroke-width="3.4" stroke-opacity="1.00"/>
<line x1="352.1" y1="291.0" x2="346.5" y2="286.9" stroke="#ffff00" stroke-width="3.0" stroke-opacity="1.00"/>
<line x1="343.3" y1="303.0" x2="336.9" y2="298.2" stroke="#ffff00" stroke-width="4.0" stroke-opacity="1.00"/>
<line x1="328.4" y1="323.1" x2="322.8" y2="318.9" stroke="#ff0000" stroke-width="3.0" stroke-opacity="1.00"/>
<line x1="316.6" y1="339.0" x2="311.0" y2="334.8" stroke="#ff0000" stroke-width="3.0" stroke-opacity="1.00"/>
<line x1="310.8" y1="346.8" x2="305.2" y2="342.6" stroke="#ff0000" stroke-width="3.0" stroke-opacity="1.00"/>
<line x1="289.0" y1="376.2" x2="283.4" y2="372.0" stroke="#ff0000" stroke-width="3.0" stroke-opacity="1.00"/>
<line x1="105.1" y1="151.5" x2="98.1" y2="151.4" stroke="#ffff00" stroke-width="5.3" stroke-opacity="0.45"/>
<line x1="105.0" y1="158.5" x2="98.0" y2="158.4" stroke="#ffff00" stroke-width="5.3" stroke-opacity="0.45"/>
<line x1="104.9" y1="164.2" x2="97.9" y2="164.1" stroke="#b8b8a8" stroke-width="2.8" stroke-opacity="0.75"/>
<line x1="104.8" y1="170.3" x2="97.3" y2="170.2" stroke="#ee82ee" stroke-width="0.9" stroke-opacity="0.75"/>
<line x1="104.7" y1="177.4" x2="98.2" y2="177.3" stroke="#f5f080" stroke-width="1.8" stroke-opacity="0.75"/>
<line x1="104.5" y1="188.5" x2="98.0" y2="188.4" stroke="#f5f080" stroke-width="1.6" stroke-opacity="0.75"/>
<line x1="104.4" y1="195.5" x2="97.4" y2="195.4" stroke="#f5f080" stroke-width="1.5" stroke-opacity="0.75"/>
<line x1="104.4" y1="197.5" x2="97.4" y2="197.4" stroke="#f08080" stroke-width="2.4" stroke-opacity="0.75"/>
<line x1="104.3" y1="205.8" x2="97.8" y2="205.7" stroke="#f5f080" stroke-width="1.8" stroke-opacity="0.75"/>
<line x1="103.9" y1="228.8" x2="97.4" y2="228.7" stroke="#f08080" stroke-width="2.2" stroke-opacity="0.75"/>
<line x1="103.7" y1="241.0" x2="97.2" y2="240.9" stroke="#f5f080" stroke-width="3.0" stroke-opacity="0.75"/>
<line x1="103.6" y1="250.0" x2="97.6" y2="249.9" stroke="#f5f080" stroke-width="2.0" stroke-opacity="0.75"/>
<line x1="103.2" y1="275.3" x2="96.2" y2="275.2" stroke="#f08080" stroke-width="3.6" stroke-opacity="0.75"/>
<line x1="102.7" y1="309.3" x2="95.7" y2="309.2" stroke="#f08080" stroke-width="2.4" stroke-opacity="0.75"/>
<line x1="288.2" y1="175.5" x2="278.5" y2="170.3" stroke="#f5f080" stroke-width="7.0" stroke-opacity="0.75"/>
<line x1="280.8" y1="189.5" x2="274.2" y2="186.0" stroke="#f5f080" stroke-width="5.0" stroke-opacity="0.75"/>
<line x1="275.2" y1="200.0" x2="269.9" y2="197.2" stroke="#ff0000" stroke-width="0.8" stroke-opacity="0.75"/>
<line x1="272.8" y1="204.5" x2="266.7" y2="201.2" stroke="#f5f080" stroke-width="4.0" stroke-opacity="0.75"/>
<line x1="270.3" y1="209.3" x2="264.6" y2="206.3" stroke="#f5f080" stroke-width="3.0" stroke-opacity="0.75"/>
<line x1="244.6" y1="256.5" x2="239.0" y2="253.1" stroke="#ee82ee" stroke-width="0.9" stroke-opacity="0.75"/>
<line x1="235.2" y1="272.0" x2="228.8" y2="268.1" stroke="#f5a060" stroke-width="2.8" stroke-opacity="0.75"/>
<line x1="232.7" y1="276.0" x2="226.3" y2="272.1" stroke="#f5f080" stroke-width="2.2" stroke-opacity="0.75"/>
<line x1="230.6" y1="279.5" x2="224.6" y2="275.9" stroke="#ee82ee" stroke-width="1.2" stroke-opacity="0.75"/>
<line x1="228.5" y1="283.0" x2="222.1" y2="279.1" stroke="#f5f080" stroke-width="2.2" stroke-opacity="0.75"/>
<line x1="226.4" y1="286.5" x2="220.4" y2="282.9" stroke="#ee82ee" stroke-width="1.4" stroke-opacity="0.75"/>
<line x1="208.7" y1="315.5" x2="204.0" y2="312.6" stroke="#f5f080" stroke-width="1.0" stroke-opacity="0.75"/>
<line x1="206.9" y1="318.5" x2="202.2" y2="315.6" stroke="#f5f080" stroke-width="1.0" stroke-opacity="0.75"/>
<line x1="293.1" y1="147.0" x2="288.9" y2="142.7" stroke="#f08080" stroke-width="0.9" stroke-opacity="0.75"/>
<line x1="290.0" y1="150.0" x2="285.8" y2="145.7" stroke="#f08080" stroke-width="0.9" stroke-opacity="0.75"/>
<line x1="276.7" y1="163.0" x2="272.5" y2="158.7" stroke="#ee82ee" stroke-width="0.8" stroke-opacity="0.75"/>
<line x1="261.4" y1="178.0" x2="256.5" y2="173.0" stroke="#f08080" stroke-width="2.0" stroke-opacity="0.75"/>
<line x1="254.7" y1="184.5" x2="249.8" y2="179.5" stroke="#f5f080" stroke-width="5.0" stroke-opacity="0.75"/>
<line x1="250.1" y1="189.0" x2="245.2" y2="184.0" stroke="#f5f080" stroke-width="3.0" stroke-opacity="0.75"/>
<line x1="246.0" y1="193.0" x2="241.1" y2="188.0" stroke="#ee82ee" stroke-width="1.2" stroke-opacity="0.75"/>
<line x1="244.0" y1="195.5" x2="238.5" y2="191.1" stroke="#ee82ee" stroke-width="1.2" stroke-opacity="0.75"/>
<line x1="242.0" y1="198.0" x2="236.5" y2="193.6" stroke="#ee82ee" stroke-width="1.2" stroke-opacity="0.75"/>
<line x1="238.0" y1="203.0" x2="232.5" y2="198.6" stroke="#f08080" stroke-width="2.2" stroke-opacity="0.75"/>
<line x1="232.4" y1="210.0" x2="227.7" y2="206.3" stroke="#f5f080" stroke-width="1.2" stroke-opacity="0.75"/>
<line x1="223.7" y1="221.0" x2="218.2" y2="216.6" stroke="#f08080" stroke-width="2.4" stroke-opacity="0.75"/>
<line x1="216.5" y1="230.0" x2="211.0" y2="225.6" stroke="#f08080" stroke-width="2.4" stroke-opacity="0.75"/>
<line x1="211.7" y1="236.0" x2="206.2" y2="231.6" stroke="#f08080" stroke-width="2.2" stroke-opacity="0.75"/>
<line x1="208.9" y1="239.5" x2="203.4" y2="235.1" stroke="#f5f080" stroke-width="3.0" stroke-opacity="0.75"/>
<line x1="136.7" y1="311.0" x2="132.0" y2="305.9" stroke="#f5f080" stroke-width="2.4" stroke-opacity="0.75"/>
<line x1="126.5" y1="320.5" x2="122.0" y2="315.7" stroke="#ee82ee" stroke-width="2.4" stroke-opacity="0.75"/>
<line x1="123.4" y1="323.3" x2="119.0" y2="318.5" stroke="#f5f080" stroke-width="1.3" stroke-opacity="0.75"/>
<line x1="120.7" y1="325.8" x2="116.3" y2="321.0" stroke="#f5f080" stroke-width="1.3" stroke-opacity="0.75"/>
<line x1="81.2" y1="360.0" x2="77.3" y2="355.4" stroke="#f5f080" stroke-width="2.0" stroke-opacity="0.75"/>
<line x1="73.1" y1="366.5" x2="69.4" y2="361.8" stroke="#f5f080" stroke-width="1.4" stroke-opacity="0.75"/>
<line x1="382.4" y1="142.0" x2="377.4" y2="138.7" stroke="#f5f080" stroke-width="5.0" stroke-opacity="0.75"/>
<line x1="362.2" y1="173.0" x2="357.5" y2="170.0" stroke="#f5f080" stroke-width="3.0" stroke-opacity="0.75"/>
<line x1="336.9" y1="213.5" x2="331.7" y2="210.5" stroke="#f5f080" stroke-width="3.5" stroke-opacity="0.75"/>
<line x1="313.8" y1="250.0" x2="307.6" y2="245.7" stroke="#f5f080" stroke-width="4.5" stroke-opacity="0.75"/>
<line x1="293.4" y1="280.0" x2="286.7" y2="275.6" stroke="#f5f080" stroke-width="5.5" stroke-opacity="0.75"/>
<line x1="281.3" y1="298.5" x2="275.8" y2="294.9" stroke="#f5f080" stroke-width="3.0" stroke-opacity="0.75"/>
<line x1="538.8" y1="127.5" x2="533.1" y2="124.4" stroke="#f5f080" stroke-width="2.4" stroke-opacity="0.85"/>
<line x1="535.2" y1="133.5" x2="530.1" y2="130.3" stroke="#f5f080" stroke-width="1.4" stroke-opacity="0.85"/>
<line x1="532.1" y1="138.5" x2="525.7" y2="134.5" stroke="#f5a060" stroke-width="2.0" stroke-opacity="0.85"/>
<line x1="529.3" y1="143.0" x2="522.9" y2="139.0" stroke="#f59070" stroke-width="2.0" stroke-opacity="0.85"/>
<line x1="523.0" y1="153.0" x2="517.1" y2="149.3" stroke="#f5f080" stroke-width="3.5" stroke-opacity="0.85"/>
<line x1="519.6" y1="158.5" x2="514.9" y2="155.6" stroke="#ee82ee" stroke-width="1.6" stroke-opacity="0.85"/>
<line x1="512.4" y1="170.0" x2="507.3" y2="166.8" stroke="#f5f080" stroke-width="2.2" stroke-opacity="0.85"/>
<line x1="504.9" y1="182.0" x2="500.3" y2="179.1" stroke="#f5f080" stroke-width="1.6" stroke-opacity="0.85"/>
<line x1="495.1" y1="198.0" x2="488.5" y2="194.5" stroke="#f5a060" stroke-width="1.8" stroke-opacity="0.85"/>
<line x1="493.5" y1="200.9" x2="486.9" y2="197.4" stroke="#ff60ff" stroke-width="1.8" stroke-opacity="0.85"/>
<line x1="492.0" y1="203.8" x2="485.4" y2="200.3" stroke="#f5f080" stroke-width="1.8" stroke-opacity="0.85"/>
<line x1="490.4" y1="206.7" x2="483.8" y2="203.2" stroke="#f5a060" stroke-width="1.8" stroke-opacity="0.85"/>
<line x1="488.9" y1="209.6" x2="482.3" y2="206.1" stroke="#f5c060" stroke-width="1.8" stroke-opacity="0.85"/>
<line x1="487.3" y1="212.5" x2="480.7" y2="209.0" stroke="#ff60ff" stroke-width="1.8" stroke-opacity="0.85"/>
<line x1="485.7" y1="215.4" x2="479.4" y2="211.4" stroke="#f5a060" stroke-width="1.8" stroke-opacity="0.85"/>
<line x1="483.9" y1="218.3" x2="477.6" y2="214.3" stroke="#ff60ff" stroke-width="1.8" stroke-opacity="0.85"/>
<line x1="482.0" y1="221.2" x2="475.7" y2="217.2" stroke="#f5f080" stroke-width="1.8" stroke-opacity="0.85"/>
<line x1="480.2" y1="224.1" x2="473.9" y2="220.1" stroke="#f5a060" stroke-width="1.8" stroke-opacity="0.85"/>
<line x1="478.3" y1="227.0" x2="472.0" y2="223.0" stroke="#f5c060" stroke-width="1.8" stroke-opacity="0.85"/>
<line x1="476.4" y1="229.9" x2="470.1" y2="225.9" stroke="#ff60ff" stroke-width="1.8" stroke-opacity="0.85"/>
<line x1="474.6" y1="232.8" x2="468.3" y2="228.8" stroke="#f5a060" stroke-width="1.8" stroke-opacity="0.85"/>
<line x1="472.7" y1="235.7" x2="466.4" y2="231.7" stroke="#ff60ff" stroke-width="1.8" stroke-opacity="0.85"/>
<line x1="470.9" y1="238.6" x2="464.6" y2="234.6" stroke="#f5f080" stroke-width="1.8" stroke-opacity="0.85"/>
<line x1="466.1" y1="246.0" x2="461.1" y2="242.8" stroke="#f5f080" stroke-width="2.0" stroke-opacity="0.85"/>
<line x1="449.5" y1="272.0" x2="444.0" y2="268.5" stroke="#f5f080" stroke-width="2.0" stroke-opacity="0.85"/>
<line x1="441.2" y1="285.0" x2="435.3" y2="281.2" stroke="#f5f080" stroke-width="2.6" stroke-opacity="0.85"/>
<line x1="435.1" y1="294.5" x2="428.8" y2="290.5" stroke="#f5f080" stroke-width="2.8" stroke-opacity="0.85"/>
<line x1="429.0" y1="304.0" x2="422.7" y2="300.0" stroke="#f5a060" stroke-width="3.2" stroke-opacity="0.85"/>
<line x1="411.7" y1="329.0" x2="405.5" y2="324.7" stroke="#f08080" stroke-width="1.8" stroke-opacity="0.85"/>
<polyline points="281.4,113.4 396.8,444.5" fill="none" stroke="#0000fa" stroke-width="1.5" stroke-linejoin="round"/>
<circle cx="281.4" cy="113.4" r="1.7" fill="#111"/>
<polyline points="315.6,119.5 293.8,147.3 260.0,193.2 246.0,211.6 224.1,240.0 197.7,274.0 170.0,307.9 130.6,353.1" fill="none" stroke="#0000fa" stroke-width="1.5" stroke-linejoin="round"/>
<circle cx="315.6" cy="119.5" r="1.7" fill="#111"/>
<polyline points="387.4,118.7 378.8,135.0 332.0,225.0 316.1,254.0 291.6,300.0 246.0,383.2 219.9,427.5" fill="none" stroke="#0000fa" stroke-width="1.5" stroke-linejoin="round"/>
<circle cx="387.4" cy="118.7" r="1.7" fill="#111"/>
<polyline points="470.2,110.2 433.7,170.0 395.2,230.0 380.0,252.9 346.4,298.8 274.3,396.0 271.1,400.4" fill="none" stroke="#0000fa" stroke-width="1.5" stroke-linejoin="round"/>
<circle cx="470.2" cy="110.2" r="1.7" fill="#111"/>
<text transform="translate(105.2,110.0) rotate(-59)" font-size="9.6" fill="#b4b4b4">AX-24-632</text>
<text transform="translate(323.0,110.5) rotate(-59)" font-size="9.6" fill="#b4b4b4">AX-24-635</text>
<text transform="translate(400.0,107.0) rotate(-59)" font-size="9.6" fill="#b4b4b4">AX-24-591</text>
<text transform="translate(547.5,107.0) rotate(-59)" font-size="9.6" fill="#b4b4b4">AX-24-595</text>
<text transform="translate(282.8,107.5) rotate(-59)" font-size="9.6" fill="#111">AX-25-818</text>
<text transform="translate(315.6,112.5) rotate(-59)" font-size="9.6" fill="#111">AX-25-811</text>
<text transform="translate(388.0,112.0) rotate(-59)" font-size="9.6" fill="#111">AX-25-806</text>
<text transform="translate(470.8,104.0) rotate(-59)" font-size="9.6" fill="#111">AX-25-793B</text>
<line x1="47.6" y1="49" x2="47.6" y2="474.8" stroke="#1a1a1a" stroke-width="1.2"/>
<line x1="47" y1="474.3" x2="615.6" y2="474.3" stroke="#555" stroke-width="1.5"/>
<g stroke="#222" stroke-width="1">
<line x1="39" y1="84.3" x2="47.5" y2="84.3"/>
<line x1="39" y1="368.3" x2="47.5" y2="368.3"/>
<line x1="47.6" y1="474" x2="47.6" y2="482.5"/>
<line x1="331" y1="474" x2="331" y2="482.5"/>
<line x1="614.8" y1="474" x2="614.8" y2="482.5"/>
</g>
<g font-size="10" fill="#000">
<text x="14.6" y="87.9" textLength="16.1" lengthAdjust="spacingAndGlyphs">800</text>
<text x="14.6" y="371.9" textLength="16.1" lengthAdjust="spacingAndGlyphs">600</text>
<text x="29.0" y="500.9" textLength="36.9" lengthAdjust="spacingAndGlyphs">7083100</text>
<text x="312.5" y="500.9" textLength="36.9" lengthAdjust="spacingAndGlyphs">7082900</text>
<text x="596.2" y="500.9" textLength="36.9" lengthAdjust="spacingAndGlyphs">7082700</text>
</g>
<text x="47.4" y="32.2" font-size="14" font-weight="bold">N</text>
<text x="606" y="32.2" font-size="14" font-weight="bold">S</text>
<g font-size="12" fill="#000">
<text x="138.6" y="498.7">Scale: 1:2,000</text>
<text x="111.2" y="517.8" textLength="131.2" lengthAdjust="spacingAndGlyphs">Vertical exaggeration: 1x</text>
<text x="97.3" y="536.9">0m</text>
<text x="234.3" y="536.9">100m</text>
<text x="413.8" y="533.3">N:</text>
<text x="436.9" y="533.3">466950, 7083100</text>
<text x="414.2" y="551.6">S:</text>
<text x="436.9" y="551.6">466950, 7082700</text>
</g>
<text x="404" y="509.4" font-size="16" font-weight="bold">Location</text>
<rect x="106" y="539.6" width="142" height="13" fill="#fff" stroke="#999" stroke-width="0.8"/>
<rect x="106" y="539.6" width="35.5" height="13" fill="#000"/>
<rect x="177" y="539.6" width="35.5" height="13" fill="#000"/>
<rect x="647.5" y="22.5" width="152" height="287" fill="#fff" stroke="#3a3a3a" stroke-width="1"/>
<text x="724" y="39.5" font-size="16" font-weight="bold" text-anchor="middle">Legend</text>
<line x1="650.3" y1="54.6" x2="678.3" y2="54.6" stroke="#444" stroke-width="1.4"/>
<text x="684.4" y="57.8" font-size="12">$2050/oz Au - Pit</text>
<text x="650.3" y="93.3" font-size="14" font-weight="bold" textLength="102.8" lengthAdjust="spacingAndGlyphs">Au_ppm_Final</text>
<rect x="651" y="98.8" width="13.4" height="12.8" fill="#c0c0c0" stroke="#6a6a6a" stroke-width="1"/>
<text x="670.5" y="109.8" font-size="12">&lt; 0.3</text>
<rect x="651" y="115.5" width="13.4" height="12.8" fill="#ffff00" stroke="#6a6a6a" stroke-width="1"/>
<text x="670.5" y="126.5" font-size="12">&lt; 1</text>
<rect x="651" y="132.2" width="13.4" height="12.8" fill="#ff0000" stroke="#6a6a6a" stroke-width="1"/>
<text x="670.5" y="143.2" font-size="12">&lt; 2</text>
<rect x="651" y="149.0" width="13.4" height="12.8" fill="#ff00ff" stroke="#6a6a6a" stroke-width="1"/>
<text x="670.5" y="160.0" font-size="12">&#8805; 2</text>
<text x="650.3" y="197.5" font-size="14" font-weight="bold" textLength="147.8" lengthAdjust="spacingAndGlyphs">AurMac Stratigraphy</text>
<rect x="651" y="202.4" width="13.4" height="12.8" fill="#c0c0c0" stroke="#6a6a6a" stroke-width="1"/>
<text x="670.5" y="213.6" font-size="12" textLength="33.3" lengthAdjust="spacingAndGlyphs">CLSR4</text>
<rect x="651" y="219.4" width="13.4" height="12.8" fill="#5b7f5b" stroke="#6a6a6a" stroke-width="1"/>
<text x="670.5" y="230.6" font-size="12" textLength="33.3" lengthAdjust="spacingAndGlyphs">CLSR5</text>
<rect x="651" y="236.5" width="13.4" height="12.8" fill="#ccff80" stroke="#6a6a6a" stroke-width="1"/>
<text x="670.5" y="247.7" font-size="12" textLength="34.7" lengthAdjust="spacingAndGlyphs">CSCH3</text>
<rect x="651" y="253.6" width="13.4" height="12.8" fill="#ff4d55" stroke="#6a6a6a" stroke-width="1"/>
<text x="670.5" y="264.8" font-size="12" textLength="34.1" lengthAdjust="spacingAndGlyphs">DYKE3</text>
<rect x="651" y="270.6" width="13.4" height="12.8" fill="#8b6914" stroke="#6a6a6a" stroke-width="1"/>
<text x="670.5" y="281.8" font-size="12" textLength="22.2" lengthAdjust="spacingAndGlyphs">OVB</text>
<rect x="651" y="287.7" width="13.4" height="12.8" fill="#aaffdd" stroke="#6a6a6a" stroke-width="1"/>
<text x="670.5" y="298.9" font-size="12" textLength="28.3" lengthAdjust="spacingAndGlyphs">SCH2</text>
</svg>
</body></html>
